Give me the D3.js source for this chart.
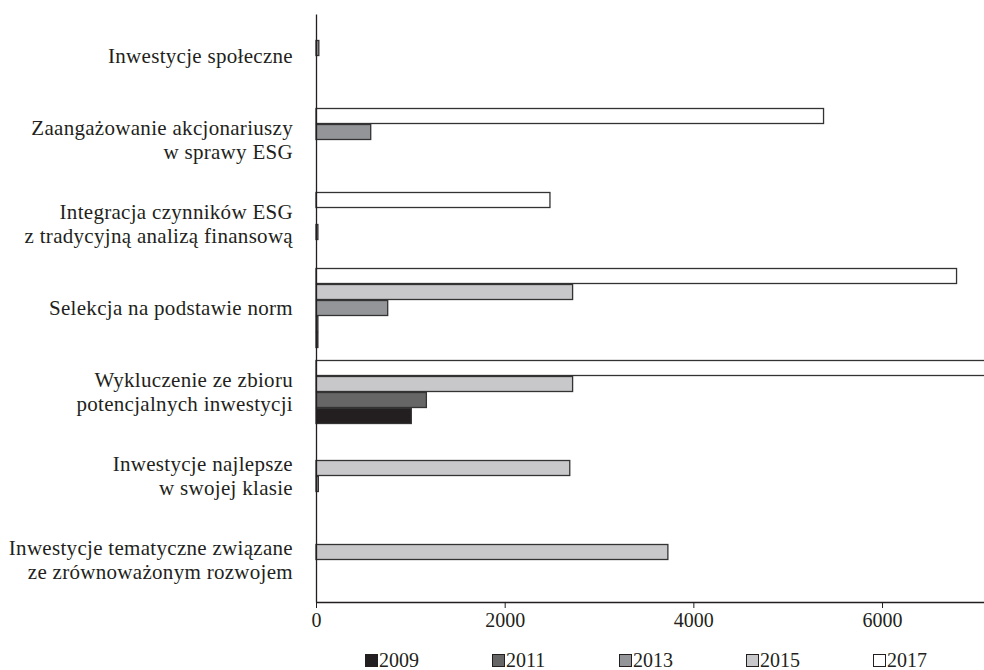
<!DOCTYPE html>
<html>
<head>
<meta charset="utf-8">
<script src="https://cdn.jsdelivr.net/npm/d3@7"></script>
<style>
  html, body { margin: 0; padding: 0; background: #fff; }
  svg { display: block; }
  text { font-family: "Liberation Serif", "DejaVu Serif", serif; fill: #231f20; }
</style>
</head>
<body>
<div id="chart"></div>
<script>
// Categories, top to bottom (each label split into its lines)
const categories = [
  "Inwestycje społeczne",
  "Zaangażowanie akcjonariuszy|w sprawy ESG",
  "Integracja czynników ESG|z tradycyjną analizą finansową",
  "Selekcja na podstawie norm",
  "Wykluczenie ze zbioru|potencjalnych inwestycji",
  "Inwestycje najlepsze|w swojej klasie",
  "Inwestycje tematyczne związane|ze zrównoważonym rozwojem"
];
// Series (null = series not shown for the category, 0 = empty slot)
const years = ["2009", "2011", "2013", "2015", "2017"];
const v2009 = [null, 0, null, 20, 1010, null, null];
const v2011 = [0, 0, 0, 20, 1170, null, null];
const v2013 = [30, 580, 20, 760, null, 25, 0];
const v2015 = [null, null, 0, 2720, 2720, 2690, 3730];
const v2017 = [null, 5380, 2480, 6790, 7300, null, null];
const tickValues = [0, 2000, 4000, 6000];

const series = { "2009": v2009, "2011": v2011, "2013": v2013, "2015": v2015, "2017": v2017 };
const colors = { "2009": "#231f20", "2011": "#666666", "2013": "#939598", "2015": "#c8c8ca", "2017": "#ffffff" };

const W = 984, H = 670;
const svg = d3.select("#chart").append("svg").attr("width", W).attr("height", H);

const x = d3.scaleLinear().domain([0, 8000]).range([316, 1070.7]);
const y = d3.scaleBand().domain(categories).range([14, 602]);
const slot = 16;

// bars
const barG = svg.append("g");
categories.forEach((cat, i) => {
  const present = years.slice().reverse().filter(yr => series[yr][i] !== null);
  const c = y(cat) + y.bandwidth() / 2;
  const inner = d3.scaleBand().domain(present)
    .range([c - present.length * slot / 2, c + present.length * slot / 2]);
  const items = present.filter(yr => series[yr][i] > 0).map(yr => ({ yr, v: series[yr][i] }));
  barG.selectAll(null).data(items).enter().append("rect")
    .attr("x", x(0))
    .attr("y", d => inner(d.yr) + 0.5)
    .attr("width", d => x(d.v) - x(0))
    .attr("height", inner.bandwidth() - 1)
    .attr("fill", d => colors[d.yr])
    .attr("stroke", "#333333")
    .attr("stroke-width", 1.3);
});

// x axis
const xAxis = d3.axisBottom(x).tickValues(tickValues).tickSize(6).tickSizeOuter(0).tickFormat(d3.format("d"));
const gx = svg.append("g").attr("transform", `translate(0,${y.range()[1]})`).call(xAxis);
gx.select(".domain").attr("stroke", "#231f20").attr("stroke-width", 1.3);
gx.selectAll(".tick line").attr("stroke", "#231f20").attr("stroke-width", 1);
gx.selectAll(".tick text").attr("font-size", 20).attr("font-family", "Liberation Serif").attr("fill", "#231f20").attr("dy", "0.8em");

// y axis line
const yAxis = d3.axisLeft(y).tickSize(0).tickSizeOuter(0).tickFormat("");
const gy = svg.append("g").attr("transform", `translate(${x(0)},0)`).call(yAxis);
gy.select(".domain").attr("stroke", "#231f20").attr("stroke-width", 1.3);

// category labels
const labG = svg.append("g");
categories.forEach(cat => {
  const lines = cat.split("|");
  const c = y(cat) + y.bandwidth() / 2;
  lines.forEach((ln, j) => {
    labG.append("text")
      .attr("x", 293)
      .attr("y", c + (j - (lines.length - 1) / 2) * 24)
      .attr("text-anchor", "end")
      .attr("dominant-baseline", "central")
      .attr("font-size", 21)
      .attr("letter-spacing", 0.3)
      .text(ln);
  });
});

// legend
const lx = d3.scalePoint().domain(years).range([365, 873]);
const lg = svg.append("g");
years.forEach(yr => {
  lg.append("rect").attr("x", lx(yr) + 0.5).attr("y", 654.5).attr("width", 12).attr("height", 12)
    .attr("fill", colors[yr]).attr("stroke", "#231f20").attr("stroke-width", 1);
  lg.append("text").attr("x", lx(yr) + 14).attr("y", 667).attr("font-size", 20).text(yr);
});
</script>
</body>
</html>
